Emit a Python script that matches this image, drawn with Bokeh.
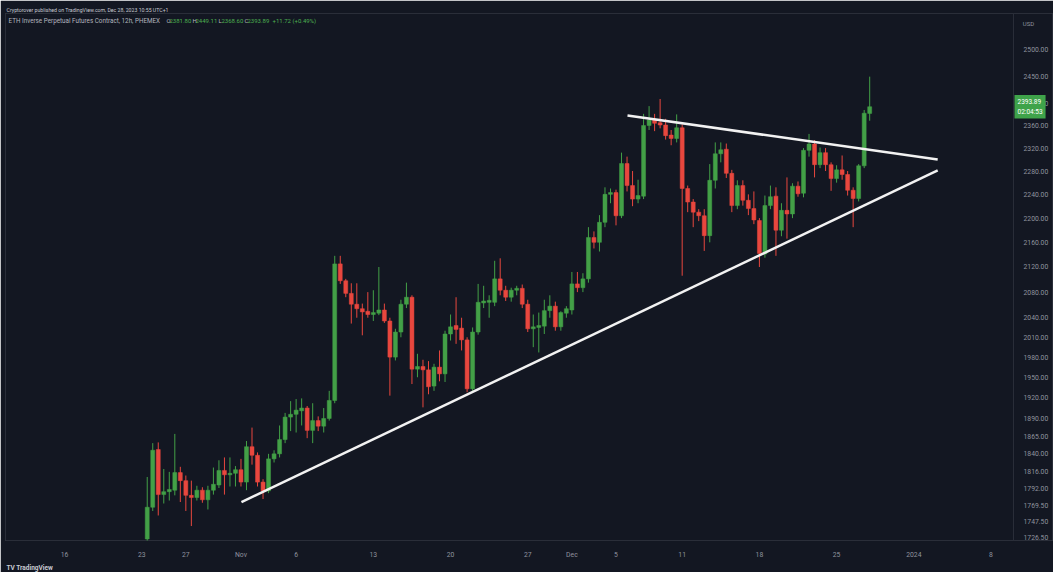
import pandas as pd
from bokeh.plotting import figure
from bokeh.models import (ColumnDataSource, FixedTicker, NumeralTickFormatter, Range1d,
                          Label, Title, Span)
from bokeh.embed import file_html
from bokeh.resources import INLINE

# ---- data (12h candles, ETH inverse perpetual, PHEMEX) ----
start_time = "2023-10-23 12:00"
opens = [1725, 1767, 1846, 1784, 1788, 1790, 1814, 1803, 1783, 1780,
         1790, 1777, 1790, 1797, 1817, 1811, 1813, 1818, 1801, 1850,
         1838, 1801, 1789, 1833, 1840, 1860, 1892, 1896, 1901, 1905,
         1873, 1887, 1879, 1890, 1916, 2125, 2098, 2078, 2061, 2054,
         2050, 2045, 2047, 2052, 2035, 1980, 2018, 2061, 2072, 1962,
         1966, 1961, 1937, 1965, 1955, 2015, 2028, 2024, 2006, 1933,
         2018, 2063, 2064, 2064, 2101, 2083, 2072, 2083, 2086, 2061,
         2023, 2025, 2027, 2051, 2058, 2026, 2047, 2052, 2093, 2087,
         2101, 2168, 2160, 2193, 2240, 2243, 2204, 2293, 2255, 2232,
         2237, 2360, 2370, 2365, 2361, 2343, 2337, 2356, 2250, 2227,
         2210, 2204, 2171, 2264, 2310, 2318, 2276, 2221, 2255, 2230,
         2216, 2196, 2141, 2221, 2237, 2180, 2213, 2207, 2254, 2242,
         2316, 2327, 2291, 2312, 2291, 2267, 2282, 2274, 2247, 2233,
         2289, 2381.80]
highs = [1808, 1855, 1856, 1819, 1815, 1868, 1822, 1810, 1803, 1796,
         1794, 1796, 1821, 1831, 1835, 1835, 1823, 1833, 1858, 1877,
         1842, 1805, 1840, 1845, 1880, 1898, 1915, 1918, 1919, 1908,
         1912, 1893, 1905, 1930, 2138, 2138, 2101, 2094, 2094, 2062,
         2080, 2083, 2120, 2062, 2040, 2023, 2068, 2095, 2075, 1985,
         1976, 1974, 1970, 1990, 2020, 2045, 2072, 2040, 2010, 2025,
         2093, 2090, 2075, 2130, 2134, 2090, 2087, 2090, 2092, 2068,
         2045, 2048, 2068, 2075, 2065, 2050, 2058, 2112, 2112, 2110,
         2185, 2178, 2205, 2252, 2250, 2248, 2312, 2305, 2280, 2265,
         2381, 2395, 2381, 2408, 2372, 2352, 2380, 2362, 2255, 2232,
         2215, 2215, 2292, 2330, 2330, 2328, 2282, 2264, 2264, 2240,
         2245, 2200, 2238, 2255, 2252, 2225, 2269, 2259, 2262, 2320,
         2345, 2334, 2321, 2320, 2295, 2290, 2307, 2280, 2252, 2292,
         2388, 2449.11]
lows = [1722, 1762, 1756, 1772, 1776, 1783, 1774, 1762, 1742, 1776,
        1773, 1764, 1784, 1793, 1784, 1795, 1795, 1795, 1790, 1825,
        1795, 1778, 1786, 1828, 1835, 1855, 1872, 1870, 1880, 1862,
        1855, 1872, 1870, 1887, 1912, 2093, 2072, 2031, 2040, 2013,
        2040, 2035, 2044, 2032, 1923, 1975, 2010, 2055, 1940, 1950,
        1906, 1925, 1930, 1944, 1943, 2005, 2000, 1990, 1928, 1930,
        2014, 2055, 2040, 2058, 2075, 2066, 2065, 2075, 2055, 2018,
        1995, 1987, 2015, 2040, 2020, 2020, 2040, 2045, 2080, 2080,
        2095, 2150, 2145, 2185, 2225, 2188, 2200, 2245, 2220, 2225,
        2232, 2352, 2350, 2355, 2335, 2325, 2330, 2106, 2210, 2185,
        2195, 2146, 2160, 2250, 2295, 2268, 2210, 2215, 2221, 2205,
        2190, 2120, 2135, 2215, 2138, 2170, 2166, 2200, 2236, 2235,
        2305, 2269, 2285, 2280, 2246, 2260, 2265, 2238, 2185, 2228,
        2285, 2368.60]
closes = [1767, 1845, 1784, 1788, 1791, 1814, 1803, 1783, 1780, 1790,
          1777, 1790, 1798, 1817, 1811, 1813, 1818, 1801, 1850, 1838,
          1801, 1789, 1833, 1840, 1860, 1892, 1896, 1902, 1905, 1873,
          1887, 1879, 1890, 1916, 2125, 2098, 2078, 2061, 2054, 2049,
          2045, 2048, 2052, 2035, 1980, 2018, 2061, 2072, 1962, 1966,
          1961, 1936, 1965, 1955, 2015, 2026, 2022, 2006, 1933, 2018,
          2064, 2066, 2067, 2101, 2083, 2072, 2083, 2086, 2061, 2023,
          2026, 2028, 2051, 2058, 2026, 2048, 2054, 2093, 2087, 2101,
          2168, 2160, 2193, 2240, 2243, 2204, 2293, 2255, 2232, 2238,
          2360, 2370, 2364, 2361, 2342, 2337, 2356, 2250, 2227, 2210,
          2204, 2171, 2264, 2310, 2317, 2276, 2221, 2255, 2230, 2216,
          2197, 2142, 2221, 2236, 2180, 2213, 2207, 2254, 2241, 2316,
          2327, 2291, 2312, 2291, 2267, 2282, 2274, 2247, 2233, 2289,
          2382.17, 2393.89]

# trend lines drawn on the chart (date, price)
upper_dates = ["2023-12-06 01:00", "2024-01-03 04:00"]
upper_prices = [2378, 2300]
lower_dates = ["2023-11-01 01:00", "2024-01-03 04:00"]
lower_prices = [1774, 2281]

# axis ticks
y_ticks = [1726.5, 1747.5, 1769.5, 1792, 1816, 1840, 1865, 1890, 1920, 1950,
           1980, 2010, 2040, 2080, 2120, 2160, 2200, 2240, 2280, 2320,
           2360, 2400, 2450, 2500]
x_tick_dates = ["2023-10-16", "2023-10-23", "2023-10-27", "2023-11-01", "2023-11-06",
                "2023-11-13", "2023-11-20", "2023-11-27", "2023-12-01", "2023-12-05",
                "2023-12-11", "2023-12-18", "2023-12-25", "2024-01-01", "2024-01-08"]
x_tick_labels = ["16", "23", "27", "Nov", "6", "13", "20", "27", "Dec", "5",
                 "11", "18", "25", "2024", "8"]

# ---- styling ----
BG = "#131722"
UP = "#43a047"
DN = "#e8473e"
TXT = "#8f939e"
FONT = "Roboto"

times = pd.date_range(start_time, periods=len(opens), freq="12h")
colors = [UP if c >= o else DN for o, c in zip(opens, closes)]
src = ColumnDataSource(dict(
    t=times, o=opens, h=highs, l=lows, c=closes,
    top=[max(o, c) for o, c in zip(opens, closes)],
    bot=[min(o, c) for o, c in zip(opens, closes)],
    color=colors,
))

# frame spans the chart pane plus the price-scale column
x_start = pd.Timestamp("2023-10-10 15:37").to_pydatetime()
x_end = pd.Timestamp("2024-01-13 13:46").to_pydatetime()
scale_edge = pd.Timestamp("2024-01-10 00:58").to_pydatetime()

p = figure(width=1053, height=572, x_axis_type="datetime", y_axis_type="log",
           y_axis_location="right", x_range=Range1d(x_start, x_end),
           y_range=Range1d(1723.0, 2569.2), output_backend="svg", toolbar_location=None,
           min_border_left=5, min_border_right=1, min_border_top=13, min_border_bottom=32,
           background_fill_color=BG, border_fill_color=BG)
p.outline_line_color = "#2a2e39"
p.grid.visible = False

# header line above the chart
p.title.text = "Cryptorover published on TradingView.com, Dec 28, 2023 10:55 UTC+1"
p.title.text_font_size = "5.2px"
p.title.text_font = FONT
p.title.text_font_style = "normal"
p.title.text_color = "#c8cbd3"
p.title.align = "left"
p.title.standoff = 2
p.title.offset = 1

# separator between chart pane and price scale
p.add_layout(Span(location=scale_edge, dimension="height", line_color="#2a2e39", line_width=1))

half_day = 12 * 3600 * 1000
p.segment(x0="t", y0="l", x1="t", y1="h", line_color="color", line_width=1, source=src)
p.vbar(x="t", width=half_day * 0.72, top="top", bottom="bot",
       fill_color="color", line_color="color", line_width=0.5, source=src)

p.line(x=[pd.Timestamp(d).to_pydatetime() for d in upper_dates], y=upper_prices,
       line_color="#f2f2f2", line_width=2.5)
p.line(x=[pd.Timestamp(d).to_pydatetime() for d in lower_dates], y=lower_prices,
       line_color="#f2f2f2", line_width=2.5)

# y axis (labels pulled into the price-scale column)
yax = p.yaxis[0]
yax.ticker = FixedTicker(ticks=y_ticks)
yax.formatter = NumeralTickFormatter(format="0.00")
yax.major_label_text_font_size = "6.8px"
yax.major_label_text_color = TXT
yax.major_label_text_font = FONT
yax.axis_line_color = None
yax.major_tick_line_color = None
yax.minor_tick_line_color = None
yax.major_label_standoff = -35

# x axis
xax = p.xaxis[0]
tick_ms = [int(pd.Timestamp(d).value // 10**6) for d in x_tick_dates]
xax.ticker = FixedTicker(ticks=tick_ms)
xax.major_label_overrides = {ms: lab for ms, lab in zip(tick_ms, x_tick_labels)}
xax.major_label_text_font_size = "6.8px"
xax.major_label_text_color = TXT
xax.major_label_text_font = FONT
xax.axis_line_color = None
xax.major_tick_line_color = None
xax.minor_tick_line_color = None
xax.major_label_standoff = 4

# footer logo line
p.add_layout(Title(text="TV TradingView", text_font_size="6.5px", text_font=FONT,
                   text_font_style="bold", text_color="#c8cbd3", align="left",
                   standoff=1, offset=1), "below")

FH = 527  # frame height in px


def lab(x, y, text, color="#b2b5be", size="6.3px", style="normal", align="left"):
    p.add_layout(Label(x=x, y=y, x_units="screen", y_units="screen", text=text,
                       text_color=color, text_font_size=size, text_font=FONT,
                       text_font_style=style, text_align=align, text_baseline="middle"))


# legend line inside the chart
GV = "#4caf50"
lab(3, FH - 7, "ETH Inverse Perpetual Futures Contract, 12h, PHEMEX", color="#b2b5be")
chg = closes[-1] - closes[-2]
parts = [("O", 161, "#b2b5be"), (f"{opens[-1]:.2f}", 164, GV),
         ("H", 187, "#b2b5be"), (f"{highs[-1]:.2f}", 190, GV),
         ("L", 213, "#b2b5be"), (f"{lows[-1]:.2f}", 216, GV),
         ("C", 239, "#b2b5be"), (f"{closes[-1]:.2f}", 242, GV),
         (f"+{chg:.2f} (+{chg / closes[-2] * 100:.2f}%)", 267, GV)]
for text, x, col in parts:
    lab(x, FH - 7, text, color=col, size="6px")

# currency label at top of the price scale
lab(1023, FH - 10, "USD", color=TXT, size="6px", align="center")

# last price tag
p.add_layout(Label(x=1009, y=closes[-1], x_units="screen", y_units="data",
                   text=f"{closes[-1]:.2f}\n02:04:53", text_color="white",
                   text_font_size="6.5px", text_font=FONT, text_align="left",
                   text_baseline="middle", background_fill_color="#3fa34a",
                   padding=3))

open("out.html", "w").write(file_html(p, INLINE))
